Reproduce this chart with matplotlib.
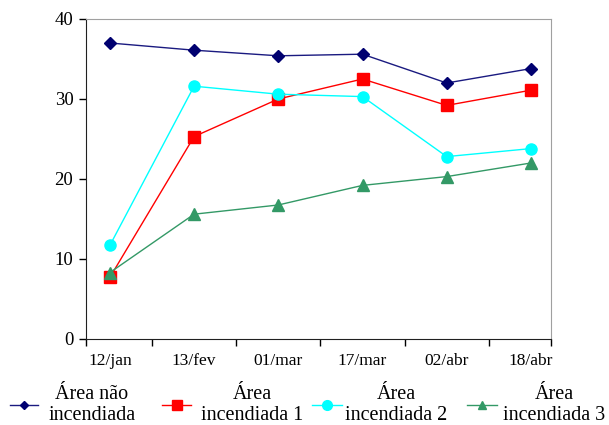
import numpy as np
import matplotlib
matplotlib.use('Agg')
import matplotlib.pyplot as plt
from matplotlib.lines import Line2D

plt.rcParams['font.family'] = ['Liberation Serif', 'DejaVu Serif']

datas = ['12/jan', '13/fev', '01/mar', '17/mar', '02/abr', '18/abr']
nao_incendiada = [37.0, 36.1, 35.4, 35.6, 32.0, 33.8]
incendiada_1 = [7.7, 25.3, 30.0, 32.5, 29.2, 31.1]
incendiada_2 = [11.7, 31.6, 30.6, 30.3, 22.8, 23.8]
incendiada_3 = [8.3, 15.6, 16.75, 19.2, 20.3, 22.0]

W, H = 609, 425
fig = plt.figure(figsize=(W / 100, H / 100), dpi=100)
ax = fig.add_axes([0.141, 0.2024, 0.764, 0.7529])

x = np.arange(len(datas))
series = [
    (nao_incendiada, 'Área não\nincendiada', dict(color='#1a1a80', marker='D', ms=6, mfc='#000070', mec='#000070'), 4),
    (incendiada_1, 'Área\nincendiada 1', dict(color='#ff0000', marker='s', ms=8), 7),
    (incendiada_2, 'Área\nincendiada 2', dict(color='#00ffff', marker='o', ms=8), 7),
    (incendiada_3, 'Área\nincendiada 3', dict(color='#339966', marker='^', ms=8), 6),
]
for vals, lab, st, _ in series:
    ax.plot(x, vals, lw=1, label=lab, **st)

ax.set_ylim(0, 40)
ax.set_yticks([0, 10, 20, 30, 40])
ax.set_xlim(-0.285, 5.24)
ax.set_xticks(x)
ax.set_xticklabels(datas, fontsize=12.5)
ax.tick_params(axis='x', length=0, pad=10)
ax.set_xticks([-0.285, 0.5, 1.5, 2.5, 3.5, 4.5, 5.24], minor=True)
ax.tick_params(axis='x', which='minor', length=5, direction='out', width=1)
ax.tick_params(axis='y', labelsize=13.5, length=5, width=1, pad=4)

for s in ['top', 'right']:
    ax.spines[s].set_color('#a0a0a0')
for s in ['left', 'bottom']:
    ax.spines[s].set_color('#202020')

# legend laid out like the excel one: fixed-width entries
handle_x = [(10, 38), (162, 191), (312, 342), (467, 497)]
text_cx = [92, 252, 396, 554]
hy = 405
for (vals, lab, st, lms), (x0, x1), tcx in zip(series, handle_x, text_cx):
    st = dict(st)
    st['ms'] = lms
    xs = [x0 / W, (x0 + x1) / 2 / W, x1 / W]
    fig.add_artist(Line2D(xs, [1 - hy / H] * 3, lw=1, markevery=[1],
                          transform=fig.transFigure, **st))
    fig.text(tcx / W, 1 - 405 / H, lab, ha='center', va='center', fontsize=14.5,
             linespacing=1.1)

fig.savefig('out.png', dpi=100)
